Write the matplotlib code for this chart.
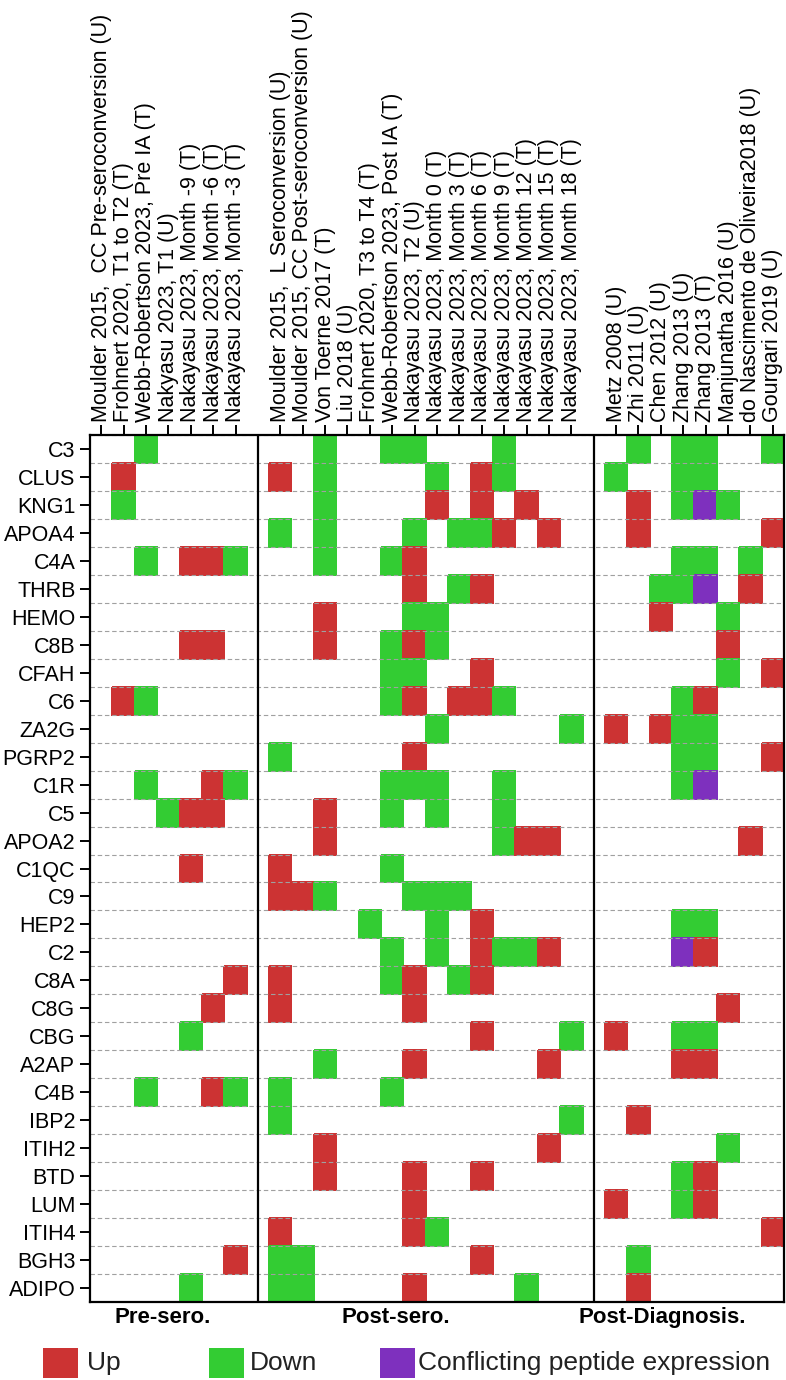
import numpy as np
import matplotlib
matplotlib.use('Agg')
import matplotlib.pyplot as plt
from matplotlib.colors import ListedColormap
from matplotlib.patches import Rectangle
from matplotlib.transforms import blended_transform_factory

plt.rcParams['font.family'] = ['Liberation Sans', 'DejaVu Sans']

proteins = ['C3', 'CLUS', 'KNG1', 'APOA4', 'C4A', 'THRB', 'HEMO', 'C8B', 'CFAH', 'C6',
            'ZA2G', 'PGRP2', 'C1R', 'C5', 'APOA2', 'C1QC', 'C9', 'HEP2', 'C2', 'C8A',
            'C8G', 'CBG', 'A2AP', 'C4B', 'IBP2', 'ITIH2', 'BTD', 'LUM', 'ITIH4', 'BGH3', 'ADIPO']

pre_sero_studies = ['Moulder 2015,  CC Pre-seroconversion (U)', 'Frohnert 2020, T1 to T2 (T)',
                    'Webb-Robertson 2023, Pre IA (T)', 'Nakyasu 2023, T1 (U)',
                    'Nakayasu 2023, Month -9 (T)', 'Nakayasu 2023, Month -6 (T)',
                    'Nakayasu 2023, Month -3 (T)']
post_sero_studies = ['Moulder 2015,  L Seroconversion (U)', 'Moulder 2015, CC Post-seroconversion (U)',
                     'Von Toerne 2017 (T)', 'Liu 2018 (U)', 'Frohnert 2020, T3 to T4 (T)',
                     'Webb-Robertson 2023, Post IA (T)', 'Nakayasu 2023, T2 (U)',
                     'Nakayasu 2023, Month 0 (T)', 'Nakayasu 2023, Month 3 (T)',
                     'Nakayasu 2023, Month 6 (T)', 'Nakayasu 2023, Month 9 (T)',
                     'Nakayasu 2023, Month 12 (T)', 'Nakayasu 2023, Month 15 (T)',
                     'Nakayasu 2023, Month 18 (T)']
post_diag_studies = ['Metz 2008 (U)', 'Zhi 2011 (U)', 'Chen 2012 (U)', 'Zhang 2013 (U)',
                     'Zhang 2013 (T)', 'Manjunatha 2016 (U)', 'do Nascimento de Oliveira2018 (U)',
                     'Gourgari 2019 (U)']
group_names = ['Pre-sero.', 'Post-sero.', 'Post-Diagnosis.']

# U = up, D = down, C = conflicting peptides, . = nothing reported
pre_sero = ['..D....', '.U.....', '.D.....', '.......', '..D.UUD', '.......', '.......',
            '....UU.', '.......', '.UD....', '.......', '.......', '..D..UD', '...DUU.',
            '.......', '....U..', '.......', '.......', '.......', '......U', '.....U.',
            '....D..', '.......', '..D..UD', '.......', '.......', '.......', '.......',
            '.......', '......U', '....D..']
post_sero = ['..D..DD...D...', 'U.D....D.UD...', '..D....U.U.U..', 'D.D...D.DDU.U.',
             '..D..DU.......', '......U.DU....', '..U...DD......', '..U..DUD......',
             '.....DD..U....', '.....DU.UUD...', '.......D.....D', 'D.....U.......',
             '.....DDD..D...', '..U..D.D..D...', '..U.......DUU.', 'U....D........',
             'UUD...DDD.....', '....D..D.U....', '.....D.D.UDDU.', 'U....DU.DU....',
             'U.....U.......', '.........U...D', '..D...U.....U.', 'D....D........',
             'D............D', '..U.........U.', '..U...U..U....', '......U.......',
             'U.....UD......', 'DD.......U....', 'DD....U....D..']
post_diag = ['.D.DD..D', 'D..DD...', '.U.DCD..', '.U.....U', '...DD.D.', '..DDC.U.',
             '..U..D..', '.....U..', '.....D.U', '...DU...', 'U.UDD...', '...DD..U',
             '...DC...', '........', '......U.', '........', '........', '...DD...',
             '...CU...', '........', '.....U..', 'U..DD...', '...UU...', '........',
             '.U......', '.....D..', '...DU...', 'U..DU...', '.......U', '.D......',
             '.U......']

legend_labels = ['Up', 'Down', 'Conflicting peptide expression']
colors = ['#CC3333', '#33CC33', '#7E30BE']
codes = {'U': 0, 'D': 1, 'C': 2}

groups = [pre_sero, post_sero, post_diag]
studies = [pre_sero_studies, post_sero_studies, post_diag_studies]

n_rows = len(proteins)
n_slots = sum(len(s) for s in studies) + len(studies) - 1   # one empty slot between groups
grid = np.full((n_rows, n_slots), np.nan)
xticks, xlabels, dividers = [], [], []
start = 0
for g, (rows, names) in enumerate(zip(groups, studies)):
    for i, row in enumerate(rows):
        for j, ch in enumerate(row):
            if ch in codes:
                grid[i, start + j] = codes[ch]
    xticks += list(range(start, start + len(names)))
    xlabels += names
    start += len(names)
    if g < len(groups) - 1:
        dividers.append(start)
        start += 1

fig = plt.figure(figsize=(7.86, 13.8), dpi=100)
ax = fig.add_axes([90 / 786, 1 - 1302 / 1380, 694 / 786, 867 / 1380])

xe = np.arange(n_slots + 1) - 0.5
ye = np.arange(n_rows + 1) - 0.5
ax.pcolormesh(xe, ye, np.ma.masked_invalid(grid), cmap=ListedColormap(colors),
              vmin=-0.5, vmax=2.5, edgecolors='face', linewidth=0.3, zorder=1)

# dashed row separators
ax.hlines(ye, -0.5, n_slots - 0.5, colors='#A0A0A0', linewidth=0.8,
          linestyles=(0, (4, 2.5)), zorder=2)
for d in dividers:
    ax.axvline(d, color='black', linewidth=1.6, zorder=3)

ax.set_xlim(-0.5, n_slots - 0.5)
ax.set_ylim(n_rows - 0.5, -0.5)

ax.xaxis.tick_top()
ax.set_xticks(xticks)
ax.set_xticklabels(xlabels, rotation=90, fontsize=15.5)
ax.set_yticks(range(n_rows))
ax.set_yticklabels(proteins, fontsize=15.5)
ax.tick_params(axis='both', direction='out', length=7.5, width=1.4, pad=3)
ax.tick_params(axis='x', pad=2)

for s in ax.spines.values():
    s.set_linewidth(1.6)
    s.set_zorder(4)

# group names under the grid
trans = blended_transform_factory(ax.transData, ax.transAxes)
label_x = [2.74, 13.17, 25.05]
for name, x in zip(group_names, label_x):
    ax.text(x, -0.006, name, transform=trans, ha='center', va='top',
            fontsize=16, fontweight='bold')

# legend
legend_x = [43, 209, 380]
legend_text_x = [87, 250, 418]
for lab, col, x, tx in zip(legend_labels, colors, legend_x, legend_text_x):
    fig.add_artist(Rectangle((x / 786, 1 - 1378 / 1380), 35 / 786, 30 / 1380,
                             transform=fig.transFigure, facecolor=col, edgecolor='none'))
    fig.text(tx / 786, 1 - 1363 / 1380, lab, fontsize=19, va='center', ha='left',
             color='#222222')

fig.savefig('out.png', dpi=100)
